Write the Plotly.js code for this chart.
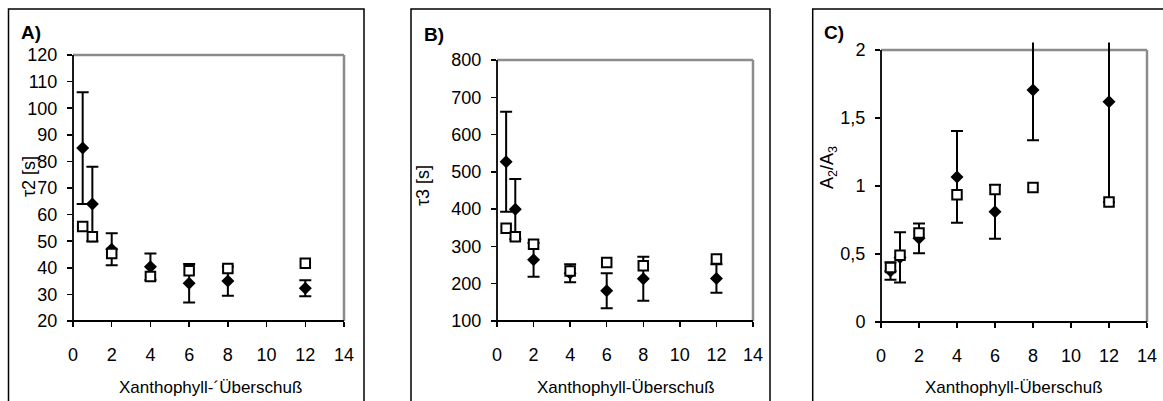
<!DOCTYPE html>
<html><head><meta charset="utf-8">
<script src="https://cdn.plot.ly/plotly-3.0.1.min.js"></script>
<style>html,body{margin:0;padding:0;background:#fff}#chart{width:1163px;height:401px}</style>
</head><body><div id="chart"></div>
<script>
// ---- data ----
const xValues = [0.5, 1, 2, 4, 6, 8, 12];
const tau2Filled = [85, 64, 47, 40.4, 34.2, 35, 32.3];
const tau2Err    = [21, 14, 6, 5, 7.2, 5.5, 3];
const tau2Open   = [55.5, 51.7, 45.4, 36.7, 38.9, 39.7, 41.7];
const tau3Filled = [527, 400, 264, 228, 181, 213, 214];
const tau3Err    = [134, 81, 45, 24, 47, 59, 38];
const tau3Open   = [349, 326, 306, 234, 257, 248, 266];
const ratioFilled = [0.375, 0.475, 0.615, 1.067, 0.81, 1.706, 1.62];
const ratioErr    = [0.065, 0.185, 0.11, 0.337, 0.197, 0.369, 0.74];
const ratioOpen   = [0.40, 0.49, 0.655, 0.935, 0.974, 0.989, 0.883];
const xTicks = [0, 2, 4, 6, 8, 10, 12, 14];
const tau2Ticks = [20, 30, 40, 50, 60, 70, 80, 90, 100, 110, 120];
const tau3Ticks = [100, 200, 300, 400, 500, 600, 700, 800];
const ratioTicks = [0, 0.5, 1, 1.5, 2];
const ratioTickText = ["0", "0,5", "1", "1,5", "2"];
const panelLabels = ["A)", "B)", "C)"];
const xTitles = ["Xanthophyll-´Überschuß", "Xanthophyll-Überschuß", "Xanthophyll-Überschuß"];
const yTitles = ["τ2 [s]", "τ3 [s]", "A<sub>2</sub>/A<sub>3</sub>"];

// ---- layout geometry (pixels) ----
const W = 1163, H = 401;
const FONT = "Liberation Sans, Arial, sans-serif";
const px = v => v / W;
const py = v => 1 - v / H;
const panels = [
  {L:73, R:344, T:55, B:321, domT:55, range:[20,120], box:[8.5,9,364,410],
   ytx:29, yty:177, labx:31, laby:32, xtx:210,
   filled:tau2Filled, err:tau2Err, open:tau2Open, ticks:tau2Ticks, ticktext:null},
  {L:497, R:753, T:60, B:321, domT:60, range:[100,800], box:[411,9,770,410],
   ytx:423, yty:186, labx:434, laby:34, xtx:626,
   filled:tau3Filled, err:tau3Err, open:tau3Open, ticks:tau3Ticks, ticktext:null},
  {L:881, R:1147, T:50, B:322, domT:42.5, range:[0,2.055], box:[812.7,9,1175,410],
   ytx:828, yty:168, labx:834, laby:32, xtx:1014,
   filled:ratioFilled, err:ratioErr, open:ratioOpen, ticks:ratioTicks, ticktext:ratioTickText}
];

const data = [], shapes = [], annotations = [];
const layout = {
  width: W, height: H, margin: {l:0, r:0, t:0, b:0},
  paper_bgcolor: "#fff", plot_bgcolor: "rgba(0,0,0,0)",
  showlegend: false, font: {family: FONT, size: 18, color: "#000"}
};

panels.forEach((p, i) => {
  const n = i === 0 ? "" : String(i + 1);
  const xa = "x" + n, ya = "y" + n;
  data.push({
    type: "scatter", mode: "markers", x: xValues, y: p.filled, xaxis: xa, yaxis: ya,
    marker: {symbol: "diamond", size: 10, color: "#000", line: {width: 0}},
    error_y: {type: "data", array: p.err, visible: true, color: "#000", thickness: 2, width: 6},
    hoverinfo: "skip"
  });
  data.push({
    type: "scatter", mode: "markers", x: xValues, y: p.open, xaxis: xa, yaxis: ya,
    marker: {symbol: "square", size: 9.5, color: "#fff", line: {width: 2, color: "#000"}},
    hoverinfo: "skip"
  });
  layout["xaxis" + n] = {
    domain: [px(p.L), px(p.R)], range: [0, 14], anchor: ya,
    tickvals: xTicks, ticks: "outside", ticklen: 5, tickwidth: 1.5, tickcolor: "#000",
    showline: false, showgrid: false, zeroline: false, ticklabelstandoff: 12,
    tickfont: {family: FONT, size: 18, color: "#000"}, fixedrange: true
  };
  const yax = {
    domain: [py(p.B), py(p.domT)], range: p.range, anchor: xa,
    tickvals: p.ticks, ticks: "outside", ticklen: 5, tickwidth: 1.5, tickcolor: "#000",
    showline: false, showgrid: false, zeroline: false, ticklabelstandoff: 6,
    tickfont: {family: FONT, size: 18, color: "#000"}, fixedrange: true
  };
  if (p.ticktext) yax.ticktext = p.ticktext;
  layout["yaxis" + n] = yax;

  shapes.push({type: "rect", xref: "paper", yref: "paper",
    x0: px(p.box[0]), x1: px(p.box[2]), y0: py(p.box[1]), y1: py(p.box[3]),
    line: {color: "#000", width: 1.5}, fillcolor: "rgba(0,0,0,0)", layer: "below"});
  shapes.push({type: "line", xref: "paper", yref: "paper",
    x0: px(p.L), x1: px(p.R), y0: py(p.T), y1: py(p.T), line: {color: "#8c8c8c", width: 2.5}, layer: "below"});
  shapes.push({type: "line", xref: "paper", yref: "paper",
    x0: px(p.R), x1: px(p.R), y0: py(p.T), y1: py(p.B), line: {color: "#8c8c8c", width: 2.5}, layer: "below"});
  shapes.push({type: "line", xref: "paper", yref: "paper",
    x0: px(p.L), x1: px(p.L), y0: py(p.T), y1: py(p.B), line: {color: "#000", width: 1.8}, layer: "below"});
  shapes.push({type: "line", xref: "paper", yref: "paper",
    x0: px(p.L - 1.5), x1: px(p.R), y0: py(p.B), y1: py(p.B), line: {color: "#000", width: 1.8}, layer: "below"});

  annotations.push({xref: "paper", yref: "paper", x: px(p.labx), y: py(p.laby),
    text: "<b>" + panelLabels[i] + "</b>", showarrow: false, xanchor: "center", yanchor: "middle",
    font: {family: FONT, size: 19, color: "#000"}});
  annotations.push({xref: "paper", yref: "paper", x: px(p.xtx), y: py(387),
    text: xTitles[i], showarrow: false, xanchor: "center", yanchor: "middle",
    font: {family: FONT, size: 17, color: "#000"}});
  annotations.push({xref: "paper", yref: "paper", x: px(p.ytx), y: py(p.yty),
    text: yTitles[i], showarrow: false, textangle: -90, xanchor: "center", yanchor: "middle",
    font: {family: FONT, size: 18, color: "#000"}});
});
layout.shapes = shapes;
layout.annotations = annotations;

Plotly.newPlot("chart", data, layout, {displayModeBar: false, staticPlot: true});
</script>
</body></html>
